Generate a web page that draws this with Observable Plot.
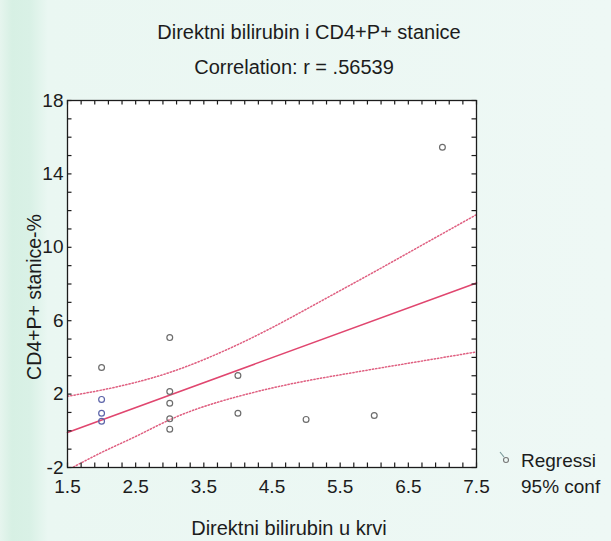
<!DOCTYPE html>
<html><head><meta charset="utf-8">
<script src="https://cdn.jsdelivr.net/npm/d3@7"></script>
<script src="https://cdn.jsdelivr.net/npm/@observablehq/plot@0.6"></script>
<style>
html,body{margin:0;padding:0;width:611px;height:541px;overflow:hidden;}
body{background:linear-gradient(to right,#e6f5ee 0px,#d7f0e4 12px,#d9f1e6 30px,#eaf7f2 48px,#eef8f5 100%);font-family:"Liberation Sans",Arial,sans-serif;}
#chart{position:absolute;left:0;top:0;width:611px;height:541px;overflow:hidden;}
</style></head><body><div id="chart"></div>
<script>
const title = "Direktni bilirubin i CD4+P+ stanice";
const subtitle = "Correlation: r = .56539";
const xLabel = "Direktni bilirubin u krvi";
const yLabel = "CD4+P+ stanice-%";
const legendLabels = ["Regressi", "95% conf"];

const pointX = [2, 2, 2, 2, 3, 3, 3, 3, 3, 4, 4, 5, 6, 7];
const pointY = [3.45, 1.71, 0.96, 0.52, 5.08, 2.14, 1.50, 0.65, 0.09, 3.01, 0.96, 0.62, 0.83, 15.45];

const regX = [1.5, 7.5];
const regY = [-0.09, 8.06];

const bandX = [1.5, 2, 2.5, 3, 3.5, 4, 4.5, 5, 5.5, 6, 6.5, 7, 7.5];
const bandUpper = [1.88, 2.22, 2.64, 3.18, 3.88, 4.70, 5.62, 6.62, 7.64, 8.66, 9.70, 10.74, 11.78];
const bandLower = [-2.15, -1.18, -0.31, 0.60, 1.32, 1.87, 2.33, 2.72, 3.05, 3.37, 3.68, 3.99, 4.30];

const xTicks = [1.5, 2.5, 3.5, 4.5, 5.5, 6.5, 7.5];
const yTicks = [-2, 2, 6, 10, 14, 18];
const xMinor = d3.range(0, 31).map(i => +(1.5 + i * 0.2).toFixed(2));
const yMinor = d3.range(-2, 19);

const points = pointX.map((x, i) => ({x, y: pointY[i]}));
const reg = regX.map((x, i) => ({x, y: regY[i]}));
const upper = bandX.map((x, i) => ({x, y: bandUpper[i]}));
const lower = bandX.map((x, i) => ({x, y: bandLower[i]}));

const W = 611, H = 541;
const mL = 67, mR = 135, mT = 100, mB = 74;
const innerW = W - mL - mR, innerH = H - mT - mB;
const tk = 4.5;

const ink = "#1c1c1c";
const red = "#e0466f";
const pink = "#df5f80";

const svg = Plot.plot({
  width: W, height: H,
  marginLeft: mL, marginRight: mR, marginTop: mT, marginBottom: mB,
  style: {background: "transparent", fontFamily: "'Liberation Sans', Arial, sans-serif", color: ink, overflow: "hidden"},
  x: {domain: [1.5, 7.5], label: null},
  y: {domain: [-2, 18], label: null},
  marks: [
    Plot.frame({fill: "white", stroke: "none"}),
    Plot.line(upper, {x: "x", y: "y", curve: "natural", stroke: pink, strokeWidth: 1.5, strokeDasharray: "1.3,2", clip: true}),
    Plot.line(lower, {x: "x", y: "y", curve: "natural", stroke: pink, strokeWidth: 1.5, strokeDasharray: "1.3,2", clip: true}),
    Plot.line(reg, {x: "x", y: "y", stroke: red, strokeWidth: 1.6}),
    Plot.dot(points, {x: "x", y: "y", r: 2.9, fill: "none", strokeWidth: 1.2,
      stroke: d => (d.x === 2 && d.y < 2) ? "#5b63a8" : "#6c6c6c"}),
    // inward minor ticks on all four sides
    Plot.tickX(xMinor, {x: d => d, insetTop: innerH - tk, stroke: ink, strokeWidth: 1.2}),
    Plot.tickX(xMinor, {x: d => d, insetBottom: innerH - tk, stroke: ink, strokeWidth: 1.2}),
    Plot.tickY(yMinor, {y: d => d, insetRight: innerW - tk, stroke: ink, strokeWidth: 1.2}),
    Plot.tickY(yMinor, {y: d => d, insetLeft: innerW - tk, stroke: ink, strokeWidth: 1.2}),
    Plot.axisX({anchor: "bottom", ticks: xTicks, tickSize: 0, tickPadding: 12, fontSize: 19, fill: ink, tickFormat: d => String(d)}),
    Plot.axisY({anchor: "left", ticks: yTicks, tickSize: 0, tickPadding: 4, fontSize: 19, fill: ink, tickFormat: d => String(d)}),
    Plot.frame({stroke: ink, strokeWidth: 1.3})
  ]
});

const s = d3.select(svg);
const addText = (txt, x, y, opts = {}) => s.append("text")
  .attr("x", x).attr("y", y)
  .attr("text-anchor", opts.anchor || "middle")
  .attr("font-size", opts.size || 20)
  .attr("fill", ink)
  .attr("font-family", "'Liberation Sans', Arial, sans-serif")
  .attr("transform", opts.transform || null)
  .text(txt);

addText(title, 309, 39);
addText(subtitle, 294, 74);
addText(xLabel, 289, 535);
addText(yLabel, 0, 0, {transform: "translate(40.5,297) rotate(-90)", size: 19.5});

// legend
const lg = s.append("g");
lg.append("line").attr("x1", 500).attr("y1", 452).attr("x2", 504).attr("y2", 457)
  .attr("stroke", "#7a9a9a").attr("stroke-width", 1.2);
lg.append("circle").attr("cx", 506).attr("cy", 460).attr("r", 2.5)
  .attr("fill", "none").attr("stroke", "#777").attr("stroke-width", 1.1);
addText(legendLabels[0], 521, 467, {anchor: "start", size: 19});
addText(legendLabels[1], 521, 493, {anchor: "start", size: 19});

document.getElementById("chart").appendChild(svg);
</script>
</body></html>
